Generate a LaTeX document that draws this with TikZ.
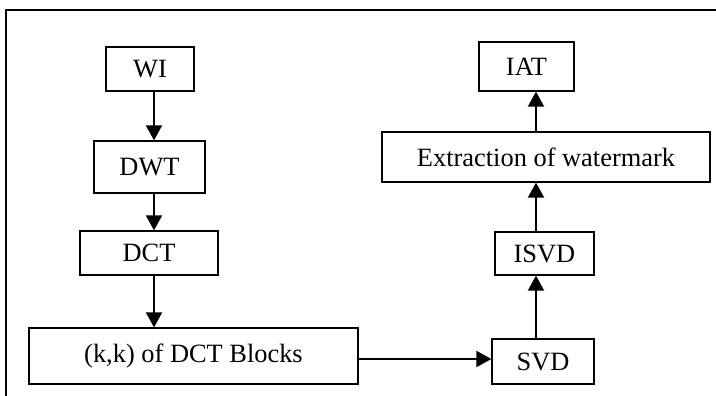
\documentclass[tikz,border=0pt]{standalone}
\usepackage{fontspec}
\setmainfont{Liberation Serif}
\usetikzlibrary{arrows.meta}
\begin{document}
\begin{tikzpicture}[x=1pt,y=-1pt,
  blk/.style={draw,line width=1.3pt,rectangle,inner sep=0pt,font=\fontsize{26.4}{30}\selectfont},
  flow/.style={line width=2pt,-{Triangle[width=16pt,length=15pt]}}]
\useasboundingbox (0,0) rectangle (716,396);
\fill[white] (0,0) rectangle (716,396);
\draw[line width=1.5pt] (6,397) -- (6,10) -- (717,10);
\node[blk,minimum width=88pt,minimum height=44pt] (wi) at (150,69) {WI};
\node[blk,minimum width=111pt,minimum height=52pt] (dwt) at (149.5,167) {DWT};
\node[blk,minimum width=138pt,minimum height=44pt] (dct) at (149,253) {DCT};
\node[blk,minimum width=329pt,minimum height=56pt] (kk) at (193.5,356) {(k,k) of DCT Blocks};
\node[blk,minimum width=102pt,minimum height=45pt] (svd) at (543,361.5) {SVD};
\node[blk,minimum width=99pt,minimum height=43pt] (isvd) at (544.5,253.5) {ISVD};
\node[blk,minimum width=328pt,minimum height=50pt] (ext) at (546,157) {Extraction of watermark};
\node[blk,minimum width=95pt,minimum height=49pt] (iat) at (526.5,66.5) {IAT};
\coordinate (colL) at (154,0);
\coordinate (colR) at (536,0);
\coordinate (rowB) at (0,359);
\draw[flow] (wi.south -| colL) -- (dwt.north -| colL);
\draw[flow] (dwt.south -| colL) -- (dct.north -| colL);
\draw[flow] (dct.south -| colL) -- (kk.north -| colL);
\draw[flow] (kk.east |- rowB) -- (svd.west |- rowB);
\draw[flow] (svd.north -| colR) -- (isvd.south -| colR);
\draw[flow] (isvd.north -| colR) -- (ext.south -| colR);
\draw[flow] (ext.north -| colR) -- (iat.south -| colR);
\end{tikzpicture}
\end{document}
